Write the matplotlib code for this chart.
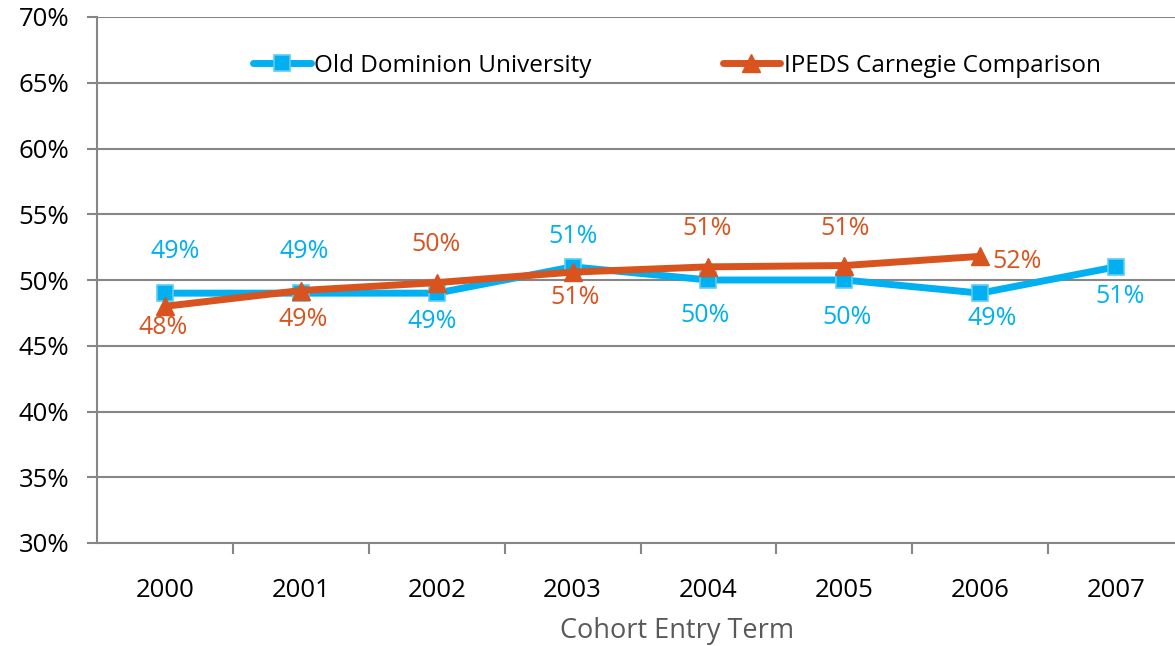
import matplotlib
matplotlib.use("Agg")
import matplotlib.pyplot as plt
from matplotlib.ticker import FuncFormatter, FixedLocator

plt.rcParams["font.family"] = ["Open Sans", "DejaVu Sans"]

years = ["2000", "2001", "2002", "2003", "2004", "2005", "2006", "2007"]
odu = [49.0, 49.0, 49.0, 51.0, 50.0, 50.0, 49.0, 51.0]
ipeds = [48.0, 49.2, 49.8, 50.6, 51.0, 51.1, 51.8]
odu_labels = ["49%", "49%", "49%", "51%", "50%", "50%", "49%", "51%"]
ipeds_labels = ["48%", "49%", "50%", "51%", "51%", "51%", "52%"]

# label offsets in pixels (dx, dy), y up
odu_off = [(10, 42), (3, 42), (-4, -28), (0, 30), (-3, -35), (3, -38), (12, -25), (4, -30)]
ipeds_off = [(-2, -21), (2, -29), (-1, 38), (3, -25), (-1, 38), (1, 37), (12, -5)]

blue = "#00B0F0"
orange = "#D9531E"
grid = "#868686"

fig = plt.figure(figsize=(11.75, 6.46), dpi=100)
ax = fig.add_axes([97 / 1175, 1 - 543 / 646, 1087 / 1175, 526 / 646])

x = list(range(len(years)))
ax.plot(x, odu, color=blue, lw=5, marker="s", ms=12, mfc=blue, mec="#5FCDF5", mew=1.2,
        label="Old Dominion University", zorder=3, solid_capstyle="round")
ax.plot(x[:len(ipeds)], ipeds, color=orange, lw=5, marker="^", ms=13, mfc=orange, mec=orange,
        label="IPEDS Carnegie Comparison", zorder=4, solid_capstyle="round")

for i, (v, t) in enumerate(zip(odu, odu_labels)):
    dx, dy = odu_off[i]
    ax.annotate(t, (x[i], v), xytext=(dx, dy), textcoords="offset pixels",
                ha="center", va="center", color=blue, fontsize=18)
for i, (v, t) in enumerate(zip(ipeds, ipeds_labels)):
    dx, dy = ipeds_off[i]
    ha = "left" if i == len(ipeds) - 1 else "center"
    ax.annotate(t, (x[i], v), xytext=(dx, dy), textcoords="offset pixels",
                ha=ha, va="center", color=orange, fontsize=18)

ax.set_xlim(-0.5, 7.5)
ax.set_ylim(30, 70)
ax.set_yticks(range(30, 71, 5))
ax.yaxis.set_major_formatter(FuncFormatter(lambda v, p: f"{v:.0f}%"))
ax.set_xticks(x)
ax.set_xticklabels(years)
ax.xaxis.set_minor_locator(FixedLocator([i + 0.5 for i in range(7)]))
ax.tick_params(axis="x", which="major", length=0, pad=25.5, labelsize=18.5)
ax.tick_params(axis="x", which="minor", length=8, width=1.5, color=grid, direction="out")
ax.tick_params(axis="y", length=7, width=1.5, color=grid, pad=13, labelsize=18.5)

ax.grid(axis="y", color=grid, lw=1.5)
ax.set_axisbelow(True)
for s in ["top", "right"]:
    ax.spines[s].set_visible(False)
for s in ["left", "bottom"]:
    ax.spines[s].set_color(grid)
    ax.spines[s].set_linewidth(1.5)

ax.set_xlabel("Cohort Entry Term", fontsize=19.5, color="#595959", va="center")
ax.xaxis.set_label_coords((677 - 97) / 1087, (543 - 631) / 526)

ax.legend(loc="center", bbox_to_anchor=((677 - 97) / 1087, (543 - 66) / 526), ncol=2,
          frameon=False, fontsize=17.5, handlelength=2.35, columnspacing=5.4, handletextpad=0.15)

fig.savefig("out.png", dpi=100)
